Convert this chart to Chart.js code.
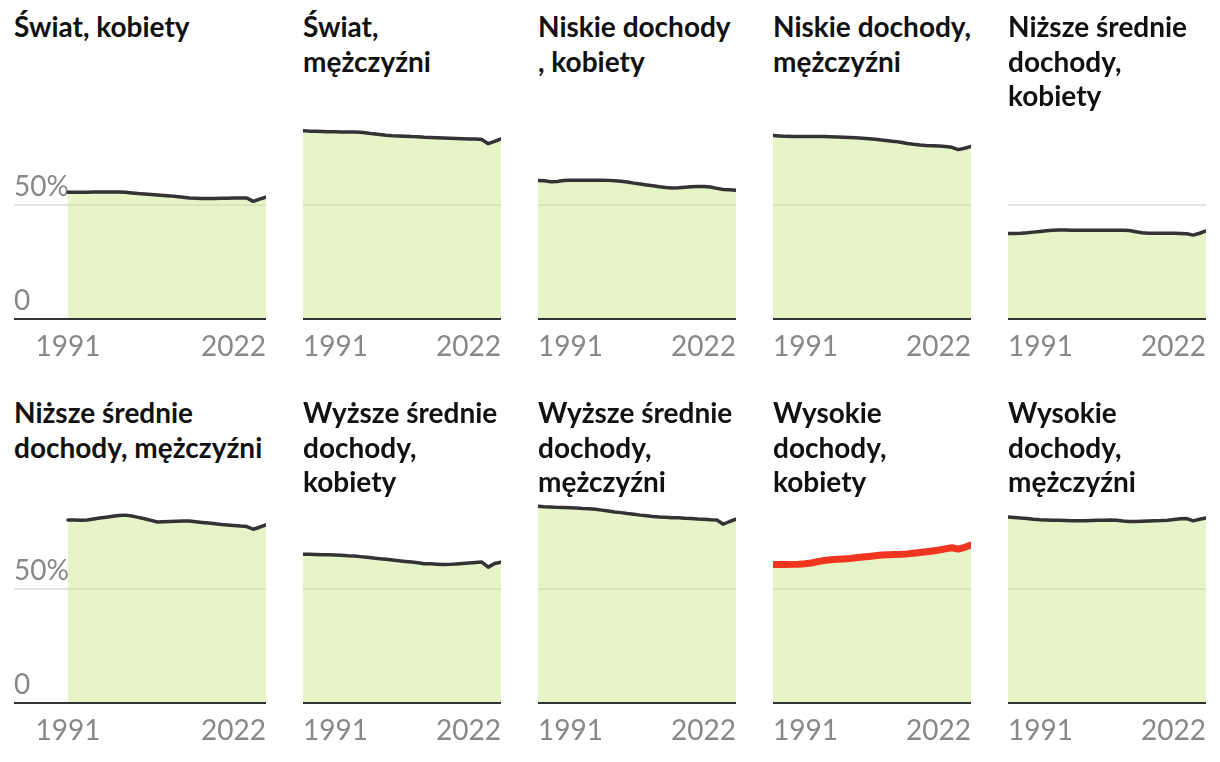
<!DOCTYPE html>
<html><head><meta charset="utf-8">
<script src="https://cdn.jsdelivr.net/npm/chart.js@4"></script>
<style>
html,body{margin:0;padding:0;background:#fff;}
body{width:1220px;height:762px;position:relative;overflow:hidden;font-family:Lato,sans-serif;}
.title{position:absolute;font-family:Lato,sans-serif;font-weight:700;font-size:28px;line-height:34.5px;color:#111;white-space:pre;z-index:2;}
canvas.panel{position:absolute;z-index:1;}
</style></head><body>
<script>
const years = [1991,1992,1993,1994,1995,1996,1997,1998,1999,2000,2001,2002,2003,2004,2005,2006,2007,2008,2009,2010,2011,2012,2013,2014,2015,2016,2017,2018,2019,2020,2021,2022];
const xTickValues = [1991, 2022];
const yTickValues = [0, 50];
const yTickLabels = ['0', '50%'];

const titles = [
  'Świat, kobiety',
  'Świat,\nmężczyźni',
  'Niskie dochody\n, kobiety',
  'Niskie dochody,\nmężczyźni',
  'Niższe średnie\ndochody,\nkobiety',
  'Niższe średnie\ndochody, mężczyźni',
  'Wyższe średnie\ndochody,\nkobiety',
  'Wyższe średnie\ndochody,\nmężczyźni',
  'Wysokie\ndochody,\nkobiety',
  'Wysokie\ndochody,\nmężczyźni'
];

const swiatKobiety = [55.6,55.6,55.6,55.6,55.7,55.7,55.7,55.7,55.7,55.6,55.3,55.0,54.8,54.6,54.4,54.2,54.0,53.7,53.4,53.1,53.0,52.9,52.9,52.9,53.0,53.0,53.1,53.1,53.1,51.6,52.6,53.4];
const swiatMezczyzni = [82.6,82.4,82.3,82.2,82.1,82.1,82.0,82.0,82.0,81.9,81.6,81.2,80.9,80.6,80.4,80.3,80.2,80.0,79.9,79.7,79.6,79.5,79.4,79.3,79.2,79.1,79.0,78.9,78.7,76.9,77.9,79.0];
const niskieKobiety = [60.7,60.6,60.2,60.3,60.7,60.9,60.9,60.9,60.9,60.9,60.9,60.8,60.6,60.4,60.1,59.6,59.2,58.8,58.4,58.0,57.7,57.5,57.6,57.8,58.0,58.1,58.1,57.9,57.3,56.8,56.7,56.5];
const niskieMezczyzni = [80.5,80.3,80.1,80.0,80.0,80.0,80.0,80.0,80.0,79.9,79.8,79.7,79.6,79.5,79.3,79.1,78.8,78.5,78.2,77.9,77.5,77.0,76.6,76.3,76.1,76.0,75.9,75.7,75.3,74.3,74.9,75.7];
const nizszeSrKobiety = [37.5,37.5,37.6,37.8,38.1,38.4,38.7,38.9,39.0,39.0,38.9,38.9,38.9,38.9,38.9,38.9,38.9,38.9,38.9,38.8,38.3,37.8,37.6,37.6,37.6,37.6,37.6,37.5,37.4,36.8,37.6,38.6];
const nizszeSrMezczyzni = [80.3,80.3,80.2,80.3,80.7,81.1,81.5,81.9,82.2,82.4,82.0,81.4,80.8,80.1,79.4,79.5,79.6,79.7,79.8,79.8,79.5,79.2,78.9,78.6,78.3,78.1,77.9,77.6,77.4,76.2,77.1,78.1];
const wyzszeSrKobiety = [65.2,65.2,65.1,65.0,65.0,64.9,64.8,64.6,64.5,64.2,63.9,63.6,63.3,63.0,62.7,62.4,62.1,61.8,61.5,61.1,61.1,60.9,60.7,60.8,61.0,61.2,61.4,61.6,61.8,59.6,61.2,61.8];
const wyzszeSrMezczyzni = [86.3,86.1,86.0,85.8,85.7,85.6,85.5,85.3,85.2,85.0,84.6,84.2,83.8,83.5,83.1,82.8,82.4,82.1,81.8,81.6,81.5,81.3,81.2,81.0,80.9,80.7,80.6,80.4,80.3,78.4,79.6,80.6];
const wysokieKobiety = [60.8,60.7,60.7,60.8,60.9,61.1,61.4,62.0,62.5,62.8,63.0,63.2,63.4,63.7,64.0,64.3,64.6,64.9,65.0,65.1,65.2,65.4,65.7,66.0,66.3,66.7,67.1,67.6,68.1,67.5,68.3,69.3];
const wysokieMezczyzni = [81.6,81.4,81.1,80.9,80.6,80.4,80.3,80.2,80.1,80.0,79.9,79.9,79.9,80.0,80.1,80.2,80.3,80.2,79.8,79.6,79.6,79.7,79.8,79.9,80.0,80.2,80.5,80.8,80.9,79.9,80.6,81.1];

const seriesList = [swiatKobiety, swiatMezczyzni, niskieKobiety, niskieMezczyzni, nizszeSrKobiety,
                    nizszeSrMezczyzni, wyzszeSrKobiety, wyzszeSrMezczyzni, wysokieKobiety, wysokieMezczyzni];
const highlighted = [false,false,false,false,false,false,false,false,true,false];

const AXIS_H = 228;       // chart area height (0..100%)
const LABEL_H = 45;       // space for x tick labels
const ROW_BOTTOM = [319, 703];
const TITLE_TOP = [9, 395];
const COL_STEP = 235;
const tickFont = {family: 'Lato', size: 28, weight: '400'};
const tickColor = '#888888';

seriesList.forEach((vals, i) => {
  const r = Math.floor(i / 5), c = i % 5;
  const first = c === 0;
  const left = first ? 14 : 68 + COL_STEP * c;
  const width = first ? 252 : 198;
  const xMin = first ? 1991 - 54 * 31 / 198 : 1991;
  const xMax = 2022;
  const top = ROW_BOTTOM[r] - AXIS_H;

  const t = document.createElement('div');
  t.className = 'title';
  t.style.left = left + 'px';
  t.style.top = TITLE_TOP[r] + 'px';
  t.textContent = titles[i];
  document.body.appendChild(t);

  const cv = document.createElement('canvas');
  cv.className = 'panel';
  cv.width = width; cv.height = AXIS_H + LABEL_H;
  cv.style.left = left + 'px'; cv.style.top = top + 'px';
  cv.style.width = width + 'px'; cv.style.height = (AXIS_H + LABEL_H) + 'px';
  document.body.appendChild(cv);

  const hl = highlighted[i];
  new Chart(cv, {
    type: 'line',
    data: {
      datasets: [{
        data: years.map((y, k) => ({x: y, y: vals[k]})),
        borderColor: hl ? '#f0361f' : '#333336',
        borderWidth: hl ? 7 : 3.5,
        backgroundColor: 'rgba(200,230,130,0.45)',
        fill: 'origin',
        pointRadius: 0,
        tension: 0,
        clip: false,
        borderCapStyle: 'round',
        borderJoinStyle: 'round'
      }]
    },
    options: {
      responsive: false,
      animation: false,
      events: [],
      layout: {padding: 0},
      plugins: {legend: {display: false}, tooltip: {enabled: false}},
      scales: {
        x: {
          type: 'linear', position: 'bottom', min: xMin, max: xMax,
          afterBuildTicks: s => { s.ticks = [{value: xTickValues[0]}]; },
          afterFit: s => {
            s.height = 0; s.paddingLeft = 0; s.paddingRight = 0;
            s._computeLabelArea = () => undefined;
          },
          grid: {display: false, drawTicks: false},
          border: {display: true, color: '#333336', width: 2, z: 1},
          ticks: {align: first ? 'center' : 'start', padding: 11, color: tickColor, font: tickFont,
                  maxRotation: 0, autoSkip: false, callback: v => String(v)}
        },
        x2: {
          type: 'linear', position: 'bottom', min: xMin, max: xMax,
          afterBuildTicks: s => { s.ticks = [{value: xTickValues[1]}]; },
          afterFit: s => {
            s.height = LABEL_H; s.paddingLeft = 0; s.paddingRight = 0;
            s._computeLabelArea = () => undefined;
          },
          grid: {display: false, drawTicks: false},
          border: {display: false},
          ticks: {align: 'end', padding: 11, color: tickColor, font: tickFont,
                  maxRotation: 0, autoSkip: false, callback: v => String(v)}
        },
        y: {
          type: 'linear', min: 0, max: 100,
          afterBuildTicks: s => { s.ticks = yTickValues.map(v => ({value: v})); },
          afterFit: s => { s.width = 0; s.paddingTop = 0; s.paddingBottom = 0; },
          grid: {drawTicks: false, lineWidth: 2,
                 color: ctx => (ctx.tick && ctx.tick.value === 50) ? '#e4e4e4' : 'rgba(0,0,0,0)'},
          border: {display: false},
          ticks: {display: first, mirror: true, padding: 0, labelOffset: -18, color: tickColor, font: tickFont,
                  callback: v => yTickLabels[yTickValues.indexOf(v)]}
        }
      }
    }
  });
});
</script>
</body></html>
